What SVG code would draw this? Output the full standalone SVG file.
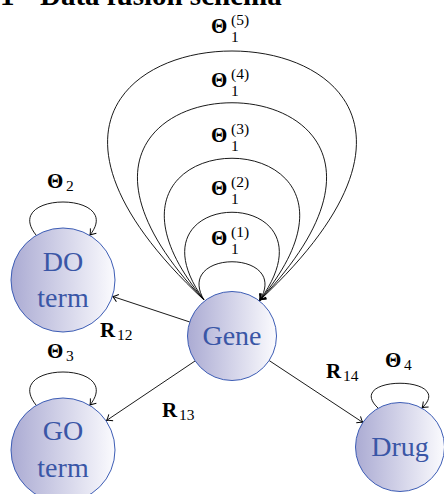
<svg xmlns="http://www.w3.org/2000/svg" width="444" height="494" viewBox="0 0 444 494">
<defs>
<linearGradient id="g" x1="0" y1="0" x2="1" y2="0">
<stop offset="0" stop-color="#ABABD3"/>
<stop offset="1" stop-color="#FBFBFE"/>
</linearGradient>
<marker id="arr" markerUnits="userSpaceOnUse" markerWidth="12" markerHeight="12" viewBox="-6 -5 8 10" refX="0" refY="0" orient="auto">
<path d="M-4.5,-3.2 Q-1.5,-0.6 0,0 Q-1.5,0.6 -4.5,3.2" fill="none" stroke="#000" stroke-width="0.8"/>
</marker>
<style>
.node circle{fill:url(#g);stroke:#3D5DB5;stroke-width:1}
.node text{font-family:"Liberation Serif",serif;font-size:28px;fill:#3A56A6;text-anchor:middle}
.conn path,.conn line{fill:none;stroke:#000;stroke-width:0.9;marker-end:url(#arr)}
.lbl{font-family:"Liberation Serif",serif;fill:#000}
.big{font-weight:bold;font-size:21px}
.sm{font-size:15.5px}
.title{font-family:"Liberation Serif",serif;font-weight:bold;font-size:29px;fill:#000}
</style>
</defs>
<rect width="444" height="494" fill="#fff"/>
<text class="title" x="0" y="5">1</text>
<text class="title" x="40" y="5">Data fusion schema</text>

<g id="connectors" class="conn">
<path d="M204,300 C174,249 290,249 260,300"/>
<path d="M204,300 C119.5,183 344.5,183 260,300"/>
<path d="M204,300 C47,111 417,111 260,300"/>
<path d="M204,300 C-47,37 511,37 260,300"/>
<path d="M204,300 C-151,-32 615,-32 260,300"/>
<path d="M36,235 C1,191 125,191 90,235"/>
<path d="M36,405 C1,361 125,361 90,405"/>
<path d="M378,408 C343,375 457,375 422,408"/>
<line x1="189.8" y1="322" x2="112.5" y2="296.4"/>
<line x1="195" y1="361" x2="106.5" y2="420.5"/>
<line x1="269.1" y1="360.5" x2="362.9" y2="422.5"/>
</g>

<g id="labels" class="lbl">
<text class="big" x="211" y="33">Θ</text><text class="sm" x="231" y="25">(5)</text><text class="sm" x="231" y="42">1</text>
<text class="big" x="211" y="87">Θ</text><text class="sm" x="231" y="79">(4)</text><text class="sm" x="231" y="96">1</text>
<text class="big" x="211" y="142">Θ</text><text class="sm" x="231" y="134">(3)</text><text class="sm" x="231" y="151">1</text>
<text class="big" x="211" y="195">Θ</text><text class="sm" x="231" y="187">(2)</text><text class="sm" x="231" y="204">1</text>
<text class="big" x="211" y="245">Θ</text><text class="sm" x="231" y="237">(1)</text><text class="sm" x="231" y="254">1</text>
<text class="big" x="47" y="188">Θ</text><text class="sm" x="66" y="191">2</text>
<text class="big" x="47" y="358">Θ</text><text class="sm" x="66" y="361">3</text>
<text class="big" x="385" y="367">Θ</text><text class="sm" x="404" y="370">4</text>
<text class="big" x="100" y="337">R</text><text class="sm" x="117" y="340">12</text>
<text class="big" x="162" y="417">R</text><text class="sm" x="179" y="420">13</text>
<text class="big" x="326" y="378">R</text><text class="sm" x="343" y="381">14</text>
</g>

<g id="node-do" class="node"><circle cx="63" cy="280" r="52"/><text x="63" y="271">DO</text><text x="63" y="307">term</text></g>
<g id="node-go" class="node"><circle cx="63" cy="450" r="52"/><text x="63" y="440">GO</text><text x="63" y="477">term</text></g>
<g id="node-gene" class="node"><circle cx="232" cy="336" r="44.5"/><text x="232" y="345">Gene</text></g>
<g id="node-drug" class="node"><circle cx="400" cy="447" r="44.5"/><text x="400" y="456">Drug</text></g>
</svg>
